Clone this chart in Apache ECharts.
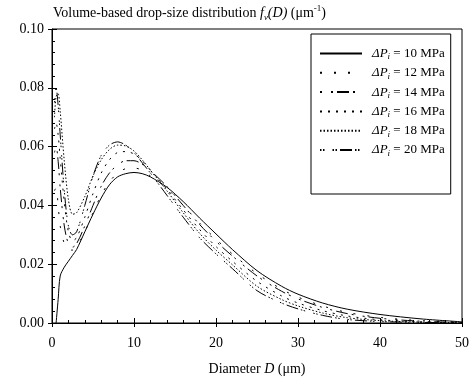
<!DOCTYPE html>
<html>
<head>
<meta charset="utf-8">
<script src="https://cdn.jsdelivr.net/npm/echarts@6/dist/echarts.min.js"></script>
<style>html,body{margin:0;padding:0;background:#fff}#c{width:472px;height:381px}</style>
</head>
<body>
<div id="c"></div>
<script>
const diameters = [0.3, 0.5, 0.75, 1, 1.5, 2, 2.5, 3, 4, 5, 6, 7, 8, 9, 10, 11, 12, 14, 16, 18, 20, 22, 25, 28, 30, 33, 36, 40, 45, 50];
const p10 = [null, 0.0, 0.008, 0.016, 0.019, 0.021, 0.023, 0.025, 0.031, 0.037, 0.0425, 0.047, 0.0497, 0.0508, 0.0512, 0.0508, 0.0497, 0.0462, 0.0413, 0.0357, 0.0303, 0.0250, 0.0178, 0.0125, 0.0098, 0.0068, 0.0047, 0.0029, 0.0014, 0.0004];
const p12 = [0.045, 0.046, 0.040, 0.033, 0.027, 0.025, 0.0248, 0.026, 0.031, 0.0375, 0.0435, 0.048, 0.051, 0.0525, 0.0527, 0.052, 0.050, 0.0458, 0.040, 0.034, 0.0285, 0.0235, 0.0168, 0.0115, 0.0088, 0.0058, 0.0036, 0.0019, 0.0008, 0.0003];
const p14 = [0.058, 0.060, 0.055, 0.046, 0.033, 0.027, 0.0258, 0.027, 0.033, 0.040, 0.0465, 0.051, 0.0538, 0.0552, 0.0552, 0.054, 0.0518, 0.0465, 0.040, 0.0335, 0.0278, 0.0228, 0.016, 0.0108, 0.0082, 0.0053, 0.0032, 0.0016, 0.0006, 0.0002];
const p16 = [0.066, 0.068, 0.064, 0.056, 0.041, 0.031, 0.028, 0.029, 0.036, 0.044, 0.051, 0.0555, 0.058, 0.0583, 0.0575, 0.0552, 0.052, 0.0455, 0.0385, 0.0318, 0.026, 0.021, 0.0142, 0.0092, 0.0068, 0.0042, 0.0024, 0.0011, 0.0004, 0.0001];
const p18 = [0.070, 0.077, 0.078, 0.072, 0.055, 0.042, 0.037, 0.0375, 0.043, 0.050, 0.0555, 0.059, 0.0605, 0.0602, 0.0585, 0.0555, 0.052, 0.045, 0.0375, 0.0305, 0.0248, 0.0198, 0.0125, 0.0080, 0.0058, 0.0034, 0.0018, 0.0008, 0.0003, 0.0001];
const p20 = [0.075, 0.080, 0.074, 0.064, 0.045, 0.033, 0.030, 0.031, 0.040, 0.050, 0.057, 0.0605, 0.0616, 0.0605, 0.058, 0.0545, 0.051, 0.0435, 0.036, 0.029, 0.0235, 0.0185, 0.011, 0.0068, 0.0048, 0.0026, 0.0012, 0.0005, 0.0002, 0.0001];
const seriesNames = ['10', '12', '14', '16', '18', '20'];
const seriesValues = [p10, p12, p14, p16, p18, p20];
const xTicks = [0, 10, 20, 30, 40, 50];
const yTicks = [0, 0.02, 0.04, 0.06, 0.08, 0.10];

const dashes = [
  'solid',
  [2, 12],
  [2, 9, 2, 4, 12, 4],
  [2, 6],
  [1.5, 2],
  [1.5, 1.5, 1.5, 8, 1.5, 1.5, 1.5, 3, 12, 3]
];
const FONT = '"Liberation Serif", "Times New Roman", serif';

const chart = echarts.init(document.getElementById('c'), null, {renderer: 'canvas'});
const series = seriesNames.map((n, k) => ({
  name: n,
  type: 'line',
  xAxisIndex: 0, yAxisIndex: 0,
  symbol: 'none',
  smooth: 0.3,
  connectNulls: false,
  lineStyle: {color: '#000', width: 1, type: dashes[k]},
  itemStyle: {color: '#000'},
  data: diameters.map((d, i) => [d, seriesValues[k][i]])
}));

chart.setOption({
  animation: false,
  backgroundColor: '#fff',
  textStyle: {fontFamily: FONT, color: '#000'},
  title: {
    left: 53, top: 4, padding: 0,
    text: '{a|Volume-based drop-size distribution }{i|f}{s|v}{i|(D)}{a| (μm}{p|-1}{a|)}',
    textStyle: {
      fontFamily: FONT, fontWeight: 'normal', fontSize: 14, color: '#000',
      rich: {
        a: {fontFamily: FONT, fontSize: 14, color: '#000', lineHeight: 18},
        i: {fontFamily: FONT, fontSize: 14, fontStyle: 'italic', color: '#000', lineHeight: 18},
        s: {fontFamily: FONT, fontSize: 9, fontStyle: 'italic', color: '#000', verticalAlign: 'bottom', lineHeight: 10},
        p: {fontFamily: FONT, fontSize: 9, color: '#000', verticalAlign: 'top', lineHeight: 10}
      }
    }
  },
  legend: {
    orient: 'vertical',
    left: 311, top: 34,
    padding: [13, 6, 36, 8],
    icon: 'inherit',
    itemWidth: 42, itemHeight: 14, itemGap: 4.8,
    borderColor: '#000', borderWidth: 1,
    backgroundColor: '#fff',
    itemStyle: {color: 'rgba(0,0,0,0)', borderColor: 'rgba(0,0,0,0)', borderWidth: 0, opacity: 0},
    lineStyle: {opacity: 1},
    data: seriesNames,
    formatter: n => '{i|ΔP}{s|i}{n| = ' + n + ' MPa}',
    textStyle: {
      fontFamily: FONT, fontSize: 13, color: '#000', padding: [0, 0, 0, 5],
      rich: {
        i: {fontFamily: FONT, fontSize: 13, fontStyle: 'italic', color: '#000', lineHeight: 16},
        s: {fontFamily: FONT, fontSize: 9, fontStyle: 'italic', color: '#000', verticalAlign: 'bottom', lineHeight: 9},
        n: {fontFamily: FONT, fontSize: 13, color: '#000', lineHeight: 16}
      }
    }
  },
  grid: {left: 52, right: 5, top: 29, bottom: 54, show: true, borderColor: '#000', borderWidth: 1, backgroundColor: 'transparent', containLabel: false},
  xAxis: [{
    type: 'value', min: xTicks[0], max: xTicks[xTicks.length - 1], interval: xTicks[1] - xTicks[0],
    position: 'bottom',
    name: 'Diameter {i|D} (μm)', nameLocation: 'middle', nameGap: 39,
    nameTextStyle: {fontFamily: FONT, fontSize: 14, color: '#000',
      rich: {i: {fontFamily: FONT, fontSize: 14, fontStyle: 'italic', color: '#000'}}},
    axisLine: {show: true, lineStyle: {color: '#000', width: 1}},
    axisTick: {show: true, inside: true, length: 5, lineStyle: {color: '#000'}},
    minorTick: {show: true, splitNumber: 5, length: 3, lineStyle: {color: '#000'}},
    splitLine: {show: false},
    axisLabel: {fontFamily: FONT, fontSize: 14, color: '#000', margin: 13}
  }, {
    type: 'value', min: xTicks[0], max: xTicks[xTicks.length - 1], interval: xTicks[1] - xTicks[0],
    position: 'bottom', offset: 0,
    axisLine: {show: false},
    axisTick: {show: true, inside: false, length: 4, lineStyle: {color: '#000'}},
    splitLine: {show: false},
    axisLabel: {show: false}
  }],
  yAxis: [{
    type: 'value', min: yTicks[0], max: yTicks[yTicks.length - 1], interval: yTicks[1] - yTicks[0],
    position: 'left',
    axisLine: {show: true, lineStyle: {color: '#000', width: 1}},
    axisTick: {show: true, inside: true, length: 5, lineStyle: {color: '#000'}},
    minorTick: {show: true, splitNumber: 5, length: 3, lineStyle: {color: '#000'}},
    splitLine: {show: false},
    axisLabel: {fontFamily: FONT, fontSize: 14, color: '#000', margin: 8, formatter: v => v.toFixed(2)}
  }, {
    type: 'value', min: yTicks[0], max: yTicks[yTicks.length - 1], interval: yTicks[1] - yTicks[0],
    position: 'left', offset: 0,
    axisLine: {show: false},
    axisTick: {show: true, inside: false, length: 4, lineStyle: {color: '#000'}},
    splitLine: {show: false},
    axisLabel: {show: false}
  }],
  series: series
});
</script>
</body>
</html>
